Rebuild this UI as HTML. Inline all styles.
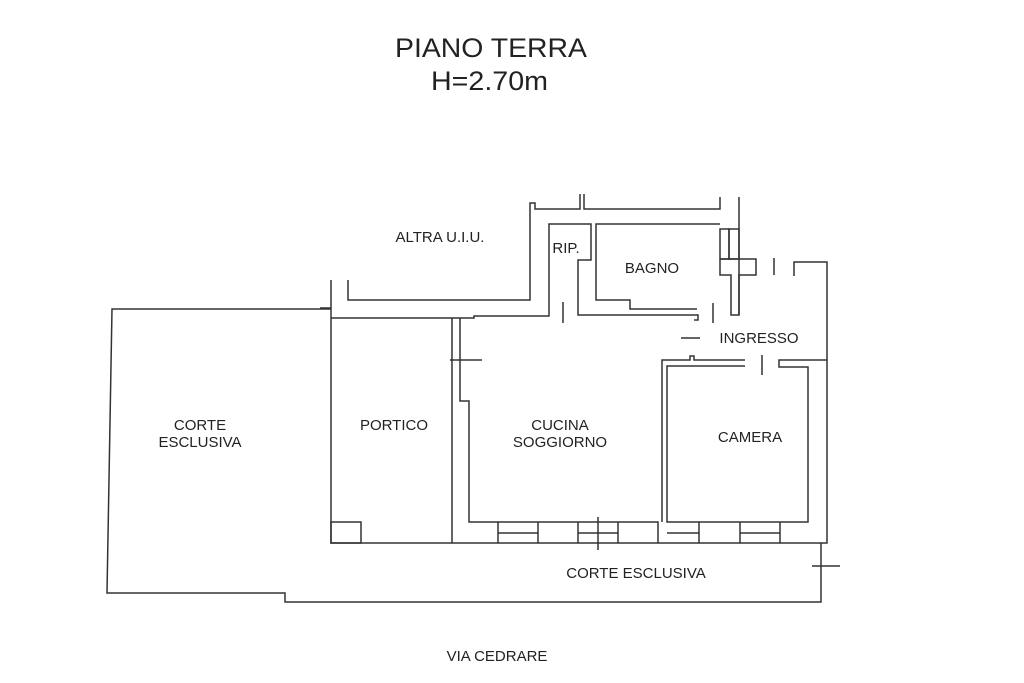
<!DOCTYPE html>
<html><head><style>
body{margin:0;background:#fff;width:1024px;height:683px;overflow:hidden;font-family:"Liberation Sans",sans-serif}
svg{position:absolute;left:0;top:0}
text{font-family:"Liberation Sans",sans-serif;fill:#222}
</style></head><body>
<svg width="1024" height="683" viewBox="0 0 1024 683">
<text x="395" y="57" font-size="27" textLength="192" lengthAdjust="spacingAndGlyphs">PIANO TERRA</text>
<text x="431" y="90" font-size="27" textLength="117" lengthAdjust="spacingAndGlyphs">H=2.70m</text>
<g fill="none" stroke="#333" stroke-width="1.5">
<polyline points="331,309 112,309 107,593 285,593 285,602 821,602 821,543"/>
<line x1="812" y1="566" x2="840" y2="566"/>
<polyline points="331,280 331,543 827,543 827,262 794,262 794,276"/>
<line x1="320" y1="308" x2="331" y2="308"/>
<polyline points="348,280 348,300 530,300 530,203 535,203 535,209 580,209 580,194"/>
<polyline points="584,194 584,209 720,209 720,197"/>
<line x1="739" y1="197" x2="739" y2="315"/>
<polyline points="331,318 474,318 474,316 549,316 549,224 591,224 591,260 578,260 578,315 698,315 698,320 694,320"/>
<polyline points="720,224 596,224 596,300 630,300 630,309 697,309"/>
<rect x="720" y="229" width="9" height="30"/>
<rect x="729" y="229" width="10" height="30"/>
<polyline points="720,259 756,259 756,275 739,275 739,315 731,315 731,275 720,275 720,259"/>
<line x1="563" y1="302" x2="563" y2="323"/>
<line x1="713" y1="303" x2="713" y2="323"/>
<line x1="774" y1="258" x2="774" y2="275"/>
<line x1="681" y1="338" x2="700" y2="338"/>
<line x1="762" y1="355" x2="762" y2="375"/>
<polyline points="745,360 694,360 694,356 690,356 690,360 662,360 662,522"/>
<polyline points="745,366 667,366 667,522 808,522 808,367 779,367 779,360 827,360"/>
<line x1="452" y1="318" x2="452" y2="543"/>
<polyline points="460,318 460,401 469,401 469,522 498,522"/>
<line x1="450" y1="360" x2="482" y2="360"/>
<rect x="331" y="522" width="30" height="21"/>
<polyline points="498,543 498,522 658,522 658,543"/>
<line x1="538" y1="522" x2="538" y2="543"/>
<line x1="578" y1="522" x2="578" y2="543"/>
<line x1="618" y1="522" x2="618" y2="543"/>
<line x1="498" y1="533" x2="538" y2="533"/>
<line x1="578" y1="533" x2="618" y2="533"/>
<line x1="598" y1="517" x2="598" y2="550"/>
<line x1="699" y1="522" x2="699" y2="543"/>
<line x1="740" y1="522" x2="740" y2="543"/>
<line x1="780" y1="522" x2="780" y2="543"/>
<line x1="667" y1="533" x2="699" y2="533"/>
<line x1="740" y1="533" x2="780" y2="533"/>
</g>
<g font-size="15">
<text x="440" y="242" text-anchor="middle">ALTRA U.I.U.</text>
<text x="566" y="253" text-anchor="middle">RIP.</text>
<text x="652" y="273" text-anchor="middle">BAGNO</text>
<text x="759" y="343" text-anchor="middle">INGRESSO</text>
<text x="200" y="430" text-anchor="middle">CORTE</text>
<text x="200" y="447" text-anchor="middle">ESCLUSIVA</text>
<text x="394" y="430" text-anchor="middle">PORTICO</text>
<text x="560" y="430" text-anchor="middle">CUCINA</text>
<text x="560" y="447" text-anchor="middle">SOGGIORNO</text>
<text x="750" y="442" text-anchor="middle">CAMERA</text>
<text x="636" y="578" text-anchor="middle">CORTE ESCLUSIVA</text>
<text x="497" y="661" text-anchor="middle">VIA CEDRARE</text>
</g>
</svg>
</body></html>
